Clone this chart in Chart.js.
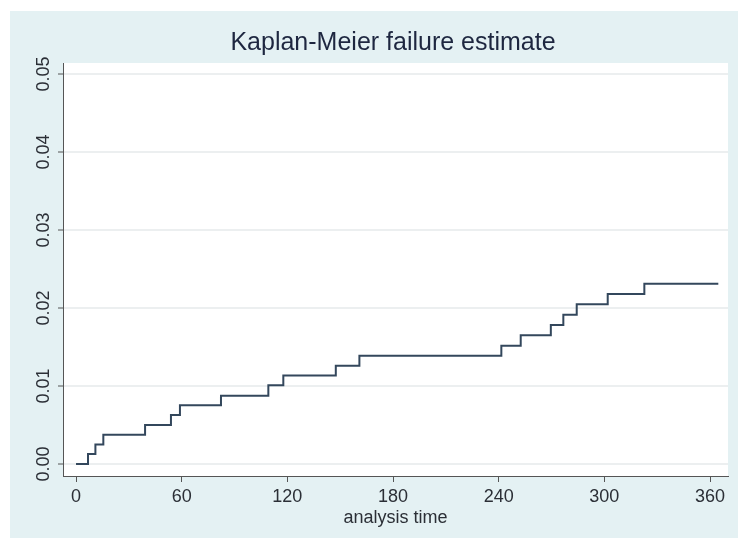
<!DOCTYPE html>
<html>
<head>
<meta charset="utf-8">
<script src="https://cdn.jsdelivr.net/npm/chart.js@4/dist/chart.umd.min.js"></script>
<style>
  html, body { margin: 0; padding: 0; background: #ffffff; }
  canvas { display: block; }
</style>
</head>
<body>
<canvas id="kmChart" width="738" height="538"></canvas>
<script>
"use strict";

// Kaplan-Meier failure estimate
const times = [0, 6.8, 11, 15.5, 39.2, 53.9, 59, 82.3, 109.2, 117.7, 147.5, 160.9, 241.5, 252.5, 269.6, 276.7, 284.3, 301.9, 322.7, 364.7];
const failure = [0, 0.00128, 0.0025, 0.00375, 0.005, 0.00628, 0.00752, 0.00876, 0.0101, 0.01133, 0.0126, 0.01389, 0.01517, 0.0165, 0.01782, 0.01914, 0.02047, 0.0218, 0.02312, 0.02312];
const xTicks = [0, 60, 120, 180, 240, 300, 360];
const yTicks = [0, 0.01, 0.02, 0.03, 0.04, 0.05];

const titleText = "Kaplan-Meier failure estimate";
const fontFamily = "'Liberation Sans', Arial, sans-serif";
const textColor = "#2b2f36";

// Backgrounds: white margin, light blue graph region, white plot region
const backgroundPlugin = {
  id: "backgrounds",
  beforeDraw: function (chart) {
    const ctx = chart.ctx;
    const area = chart.chartArea;
    ctx.save();
    ctx.fillStyle = "#ffffff";
    ctx.fillRect(0, 0, chart.width, chart.height);
    ctx.fillStyle = "#e4f1f3";
    ctx.fillRect(10, 11, chart.width - 10, chart.height - 11);
    ctx.fillStyle = "#ffffff";
    ctx.fillRect(area.left, area.top, area.right - area.left, area.bottom - area.top);
    ctx.restore();
  },
};

// Title and rotated y tick labels
const labelPlugin = {
  id: "labels",
  afterDraw: function (chart) {
    const ctx = chart.ctx;
    const yScale = chart.scales.y;
    ctx.save();
    ctx.fillStyle = "#1e2740";
    ctx.font = "25px " + fontFamily;
    ctx.textAlign = "center";
    ctx.textBaseline = "middle";
    ctx.fillText(titleText, 393, 43);

    ctx.fillStyle = textColor;
    ctx.font = "18px " + fontFamily;
    yTicks.forEach((v) => {
      const py = yScale.getPixelForValue(v);
      ctx.save();
      ctx.translate(44, py);
      ctx.rotate(-Math.PI / 2);
      ctx.fillText(v.toFixed(2), 0, 0);
      ctx.restore();
    });
    ctx.restore();
  },
};

const points = times.map((t, i) => ({ x: t, y: failure[i] }));

new Chart(document.getElementById("kmChart").getContext("2d"), {
  type: "line",
  data: {
    datasets: [
      {
        data: points,
        stepped: "before",
        borderColor: "#33475c",
        borderWidth: 2,
        pointRadius: 0,
        fill: false,
      },
    ],
  },
  options: {
    responsive: false,
    animation: false,
    layout: {
      padding: { top: 63, right: 10, left: 0, bottom: 0 },
    },
    plugins: {
      legend: { display: false },
      title: { display: false },
      tooltip: { enabled: false },
    },
    scales: {
      x: {
        type: "linear",
        min: -7.4,
        max: 370.2,
        afterBuildTicks: function (axis) {
          axis.ticks = xTicks.map((v) => ({ value: v }));
        },
        afterFit: function (axis) {
          axis.height = 62;
        },
        grid: {
          drawOnChartArea: false,
          tickLength: 6,
          tickColor: "#555555",
        },
        border: { color: "#555555", width: 1 },
        ticks: {
          color: textColor,
          padding: 4,
          maxRotation: 0,
          font: { family: fontFamily, size: 18 },
        },
        title: {
          display: true,
          text: "analysis time",
          color: textColor,
          padding: { top: 0, bottom: 9 },
          font: { family: fontFamily, size: 18 },
        },
      },
      y: {
        type: "linear",
        min: -0.00154,
        max: 0.05141,
        afterBuildTicks: function (axis) {
          axis.ticks = yTicks.map((v) => ({ value: v }));
        },
        afterFit: function (axis) {
          axis.width = 63;
        },
        grid: {
          color: "#eceff0",
          lineWidth: 2,
          tickLength: 5,
          tickColor: "#555555",
          tickWidth: 1,
        },
        border: { color: "#555555", width: 1 },
        ticks: { display: false },
      },
    },
  },
  plugins: [backgroundPlugin, labelPlugin],
});
</script>
</body>
</html>
